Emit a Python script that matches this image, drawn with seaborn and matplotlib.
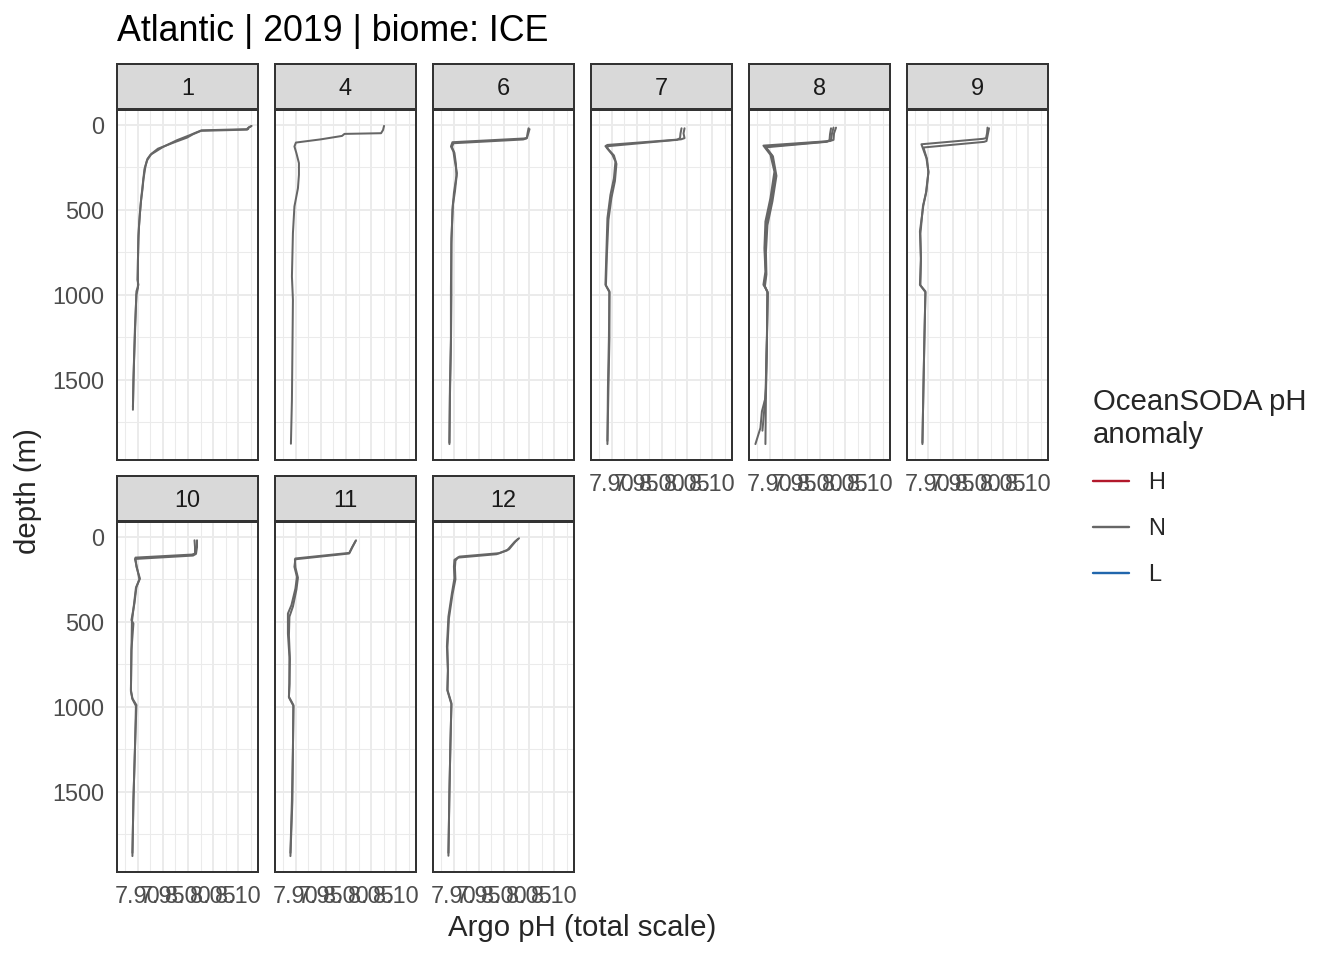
import matplotlib
matplotlib.use("Agg")
import pandas as pd
import matplotlib.pyplot as plt
from matplotlib.lines import Line2D
import seaborn as sb

# DATA
#----------------------------------------------------
TITLE = "Atlantic | 2019 | biome: ICE"
MONTHS = [1, 4, 6, 7, 8, 9, 10, 11, 12]
ANOMALY_LEVELS = ["H", "N", "L"]
ANOMALY_COLORS = ["#B2182B", "#666666", "#2166AC"]
X_BREAKS = [7.90, 7.95, 8.00, 8.05, 8.10]
X_LABELS = ["7.90", "7.95", "8.00", "8.05", "8.10"]
Y_BREAKS = [0, 500, 1000, 1500]

M1_A_DEPTH = [6, 15, 25, 32, 45, 60, 90, 130, 176, 200, 245, 320, 382, 450, 520, 600, 677, 800, 912, 941, 980, 1150, 1324, 1500, 1677]
M1_A_PH = [8.127, 8.121, 8.120, 8.027, 8.016, 8.004, 7.978, 7.950, 7.925, 7.919, 7.915, 7.911, 7.909, 7.906, 7.904, 7.902, 7.901, 7.900, 7.899, 7.901, 7.897, 7.895, 7.893, 7.891, 7.890]
M1_B_DEPTH = [10, 20, 28, 35, 55, 75, 100, 140, 170, 210, 260, 340, 420, 520, 650, 800, 930, 960, 1000, 1200, 1400, 1660]
M1_B_PH = [8.125, 8.119, 8.118, 8.026, 8.010, 7.998, 7.975, 7.940, 7.927, 7.918, 7.913, 7.910, 7.907, 7.904, 7.901, 7.900, 7.900, 7.900, 7.897, 7.894, 7.892, 7.890]

M4_A_DEPTH = [6, 30, 49, 53, 65, 85, 104, 127, 167, 225, 294, 373, 480, 637, 892, 1030, 1324, 1618, 1877]
M4_A_PH = [8.076, 8.074, 8.070, 7.997, 7.992, 7.950, 7.900, 7.897, 7.901, 7.906, 7.906, 7.904, 7.897, 7.894, 7.892, 7.894, 7.893, 7.892, 7.890]

M6_A_DEPTH = [20, 50, 76, 80, 102, 127, 157, 216, 284, 392, 471, 667, 961, 1255, 1549, 1879]
M6_A_PH = [8.049, 8.047, 8.046, 8.040, 7.897, 7.894, 7.899, 7.902, 7.906, 7.902, 7.898, 7.895, 7.894, 7.894, 7.892, 7.891]
M6_B_DEPTH = [25, 55, 80, 86, 108, 130, 165, 230, 300, 400, 500, 700, 1000, 1300, 1600, 1870]
M6_B_PH = [8.051, 8.048, 8.045, 8.038, 7.899, 7.896, 7.901, 7.904, 7.905, 7.900, 7.897, 7.895, 7.895, 7.894, 7.892, 7.891]

M7_A_DEPTH = [20, 50, 78, 85, 118, 125, 176, 216, 314, 412, 549, 745, 941, 980, 1255, 1549, 1879]
M7_A_PH = [8.045, 8.043, 8.045, 8.038, 7.891, 7.887, 7.901, 7.907, 7.904, 7.897, 7.891, 7.889, 7.887, 7.895, 7.895, 7.893, 7.891]
M7_B_DEPTH = [20, 50, 78, 88, 125, 135, 180, 230, 330, 430, 560, 760, 945, 985, 1250, 1550, 1860]
M7_B_PH = [8.039, 8.037, 8.036, 8.030, 7.893, 7.890, 7.904, 7.909, 7.906, 7.899, 7.893, 7.890, 7.888, 7.895, 7.894, 7.892, 7.891]

M8_A_DEPTH = [16, 50, 88, 95, 122, 176, 275, 431, 569, 726, 863, 941, 980, 1255, 1608, 1686, 1784, 1879]
M8_A_PH = [8.032, 8.028, 8.027, 8.020, 7.887, 7.901, 7.909, 7.901, 7.891, 7.889, 7.891, 7.887, 7.895, 7.894, 7.891, 7.884, 7.881, 7.871]
M8_B_DEPTH = [16, 50, 88, 98, 128, 180, 290, 440, 580, 740, 870, 945, 985, 1260, 1600, 1879]
M8_B_PH = [8.027, 8.024, 8.022, 8.015, 7.890, 7.904, 7.911, 7.903, 7.893, 7.890, 7.892, 7.889, 7.895, 7.894, 7.892, 7.891]
M8_C_DEPTH = [20, 55, 90, 100, 132, 185, 300, 450, 590, 750, 880, 950, 990, 1260, 1550, 1700, 1800]
M8_C_PH = [8.022, 8.020, 8.019, 8.012, 7.892, 7.906, 7.913, 7.905, 7.895, 7.892, 7.893, 7.890, 7.896, 7.894, 7.892, 7.888, 7.885]

M9_A_DEPTH = [16, 50, 78, 82, 114, 196, 275, 392, 471, 627, 784, 941, 980, 1255, 1549, 1879]
M9_A_PH = [8.019, 8.018, 8.016, 8.010, 7.887, 7.897, 7.901, 7.897, 7.891, 7.884, 7.886, 7.884, 7.895, 7.893, 7.891, 7.889]
M9_B_DEPTH = [20, 50, 95, 100, 133, 200, 280, 400, 480, 640, 800, 945, 985, 1250, 1550, 1870]
M9_B_PH = [8.022, 8.020, 8.017, 8.012, 7.891, 7.898, 7.901, 7.896, 7.890, 7.885, 7.886, 7.885, 7.895, 7.893, 7.891, 7.889]

M10_A_DEPTH = [20, 60, 98, 104, 122, 176, 245, 294, 392, 490, 510, 667, 902, 951, 990, 1255, 1549, 1879]
M10_A_PH = [8.013, 8.014, 8.014, 8.008, 7.895, 7.897, 7.904, 7.897, 7.893, 7.887, 7.891, 7.887, 7.886, 7.889, 7.897, 7.894, 7.891, 7.889]
M10_B_DEPTH = [20, 60, 100, 110, 130, 180, 250, 300, 400, 500, 680, 910, 955, 995, 1250, 1550, 1860]
M10_B_PH = [8.018, 8.018, 8.016, 8.010, 7.894, 7.898, 7.903, 7.896, 7.892, 7.888, 7.887, 7.886, 7.889, 7.896, 7.894, 7.891, 7.889]

M11_A_DEPTH = [20, 59, 94, 127, 176, 235, 304, 402, 451, 569, 706, 863, 941, 990, 1255, 1549, 1879]
M11_A_PH = [8.020, 8.013, 8.007, 7.899, 7.897, 7.902, 7.899, 7.891, 7.884, 7.884, 7.887, 7.887, 7.886, 7.895, 7.894, 7.893, 7.889]
M11_B_DEPTH = [25, 62, 98, 132, 180, 240, 310, 410, 470, 580, 720, 870, 945, 995, 1250, 1550, 1860]
M11_B_PH = [8.019, 8.012, 8.006, 7.898, 7.899, 7.904, 7.901, 7.894, 7.887, 7.886, 7.888, 7.887, 7.886, 7.895, 7.894, 7.892, 7.889]

M12_A_DEPTH = [8, 27, 73, 96, 116, 135, 175, 243, 331, 469, 645, 782, 900, 979, 1214, 1508, 1877]
M12_A_PH = [8.030, 8.023, 8.010, 7.990, 7.911, 7.901, 7.900, 7.901, 7.896, 7.889, 7.886, 7.888, 7.887, 7.895, 7.893, 7.891, 7.889]
M12_B_DEPTH = [12, 30, 80, 102, 122, 140, 180, 250, 340, 480, 650, 790, 905, 985, 1220, 1500, 1860]
M12_B_PH = [8.028, 8.021, 8.006, 7.985, 7.908, 7.903, 7.902, 7.903, 7.897, 7.890, 7.887, 7.888, 7.887, 7.895, 7.893, 7.891, 7.889]

PROFILES = [
    (1, "1a", M1_A_DEPTH, M1_A_PH), (1, "1b", M1_B_DEPTH, M1_B_PH),
    (4, "4a", M4_A_DEPTH, M4_A_PH),
    (6, "6a", M6_A_DEPTH, M6_A_PH), (6, "6b", M6_B_DEPTH, M6_B_PH),
    (7, "7a", M7_A_DEPTH, M7_A_PH), (7, "7b", M7_B_DEPTH, M7_B_PH),
    (8, "8a", M8_A_DEPTH, M8_A_PH), (8, "8b", M8_B_DEPTH, M8_B_PH), (8, "8c", M8_C_DEPTH, M8_C_PH),
    (9, "9a", M9_A_DEPTH, M9_A_PH), (9, "9b", M9_B_DEPTH, M9_B_PH),
    (10, "10a", M10_A_DEPTH, M10_A_PH), (10, "10b", M10_B_DEPTH, M10_B_PH),
    (11, "11a", M11_A_DEPTH, M11_A_PH), (11, "11b", M11_B_DEPTH, M11_B_PH),
    (12, "12a", M12_A_DEPTH, M12_A_PH), (12, "12b", M12_B_DEPTH, M12_B_PH),
]

# LAYOUT (pixels of a 1344x960 picture)
#----------------------------------------------------
W, H = 1344, 960
COL_LEFT = [117, 275, 433, 591, 749, 907]
ROW_TOP = [110, 522]
PANEL_W, PANEL_H = 141, 350
STRIP_H = 45
NCOL = 6


def px_rect(left, top, width, height):
    return [left / W, 1 - (top + height) / H, width / W, height / H]


def build_frame():
    rows = []
    for month, name, depth, ph in PROFILES:
        for d, p in zip(depth, ph):
            rows.append({"month": month, "profile": name, "depth": d, "ph": p, "anomaly": "N"})
    return pd.DataFrame(rows)


def expand(lo, hi, frac=0.05):
    pad = (hi - lo) * frac
    return lo - pad, hi + pad


# PLOT
#----------------------------------------------------
def plot(df):
    sb.set_style("white")
    plt.rcParams["font.family"] = ["Liberation Sans", "DejaVu Sans"]

    palette = dict(zip(ANOMALY_LEVELS, ANOMALY_COLORS))
    xlim = expand(df["ph"].min(), df["ph"].max())
    ylim = expand(df["depth"].min(), df["depth"].max())
    x_minor = [b - 0.025 for b in X_BREAKS] + [X_BREAKS[-1] + 0.025]
    y_minor = [250, 750, 1250, 1750]

    fig = plt.figure(figsize=(W / 192, H / 192), dpi=192)
    n = len(MONTHS)
    for i, month in enumerate(MONTHS):
        r, c = divmod(i, NCOL)
        ax = fig.add_axes(px_rect(COL_LEFT[c], ROW_TOP[r], PANEL_W, PANEL_H))
        sub = df[df["month"] == month]
        sb.lineplot(data=sub, x="ph", y="depth", hue="anomaly", palette=palette,
                    units="profile", estimator=None, sort=False, linewidth=0.75,
                    legend=False, ax=ax)
        ax.set_xlim(*xlim)
        ax.set_ylim(ylim[1], ylim[0])
        ax.set_xticks(X_BREAKS)
        ax.set_xticks(x_minor, minor=True)
        ax.set_yticks(Y_BREAKS)
        ax.set_yticks(y_minor, minor=True)
        ax.grid(which="major", color="#EBEBEB", linewidth=0.75)
        ax.grid(which="minor", color="#EBEBEB", linewidth=0.4)
        ax.set_axisbelow(True)
        for s in ax.spines.values():
            s.set_color("#333333")
            s.set_linewidth(0.75)
        ax.set_xlabel("")
        ax.set_ylabel("")
        ax.tick_params(which="minor", length=0)
        ax.tick_params(which="major", length=2.75, width=0.75, color="#333333",
                       labelsize=8.8, labelcolor="#4D4D4D", pad=2.2)

        # x axis only where no panel below, y axis only on first column
        show_x = (i + NCOL) >= n
        show_y = c == 0
        if show_x:
            ax.set_xticklabels(X_LABELS)
        else:
            ax.tick_params(axis="x", which="major", length=0, labelbottom=False)
        if show_y:
            ax.set_yticklabels([str(v) for v in Y_BREAKS])
        else:
            ax.tick_params(axis="y", which="major", length=0, labelleft=False)

        strip = fig.add_axes(px_rect(COL_LEFT[c], ROW_TOP[r] - STRIP_H - 1, PANEL_W, STRIP_H))
        strip.set_facecolor("#D9D9D9")
        strip.set_xticks([])
        strip.set_yticks([])
        for s in strip.spines.values():
            s.set_color("#333333")
            s.set_linewidth(0.75)
        strip.text(0.5, 0.45, str(month), ha="center", va="center",
                   fontsize=8.8, color="#1A1A1A", transform=strip.transAxes)

    fig.text(117 / W, 1 - 41 / H, TITLE, fontsize=13.4, color="black", va="baseline", ha="left")
    fig.text(582 / W, 1 - 928 / H, "Argo pH (total scale)", fontsize=11, ha="center", va="center")
    fig.text(28 / W, 1 - 491 / H, "depth (m)", fontsize=11, rotation=90, ha="center", va="center")

    handles = [Line2D([], [], color=col, linewidth=0.9) for col in ANOMALY_COLORS]
    fig.legend(handles, ANOMALY_LEVELS, title="OceanSODA pH\nanomaly", loc="upper left",
               bbox_to_anchor=(1072 / W, 1 - 367 / H), frameon=False, fontsize=8.8,
               title_fontsize=11, handlelength=1.55, handletextpad=0.8,
               labelspacing=0.97, alignment="left")

    fig.savefig("out.png", dpi=192)


# MAIN
#----------------------------------------------------
def main():
    df = build_frame()
    plot(df)


if __name__ == "__main__":
    main()
